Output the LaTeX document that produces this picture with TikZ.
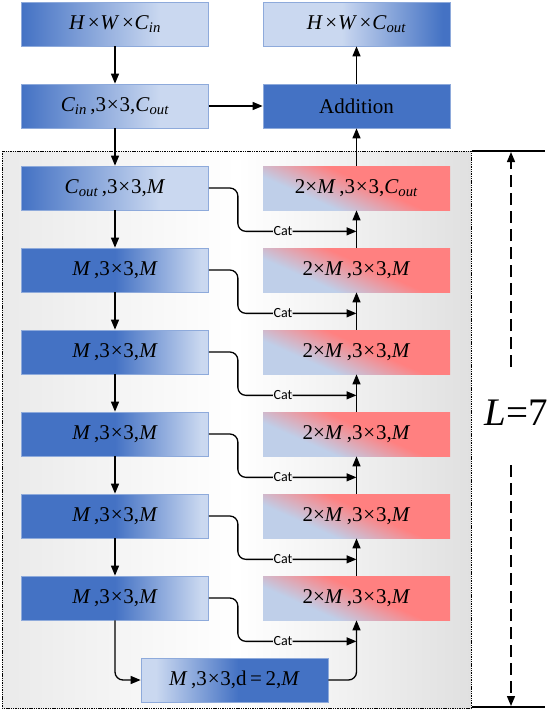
\documentclass[tikz,border=0pt]{standalone}
\usepackage{fontspec}
\setmainfont{Liberation Serif}
\newfontfamily\catfont{Carlito}
\usetikzlibrary{arrows.meta,calc}
\definecolor{bdark}{HTML}{4472C4}
\definecolor{bpale}{HTML}{CAD8F0}
\definecolor{bborder}{HTML}{8EAADB}
\definecolor{rred}{HTML}{FF8080}
\definecolor{rblue}{HTML}{BFCFE9}
\definecolor{bgl}{HTML}{EAEAEA}
\definecolor{bgr}{HTML}{E0E0E0}
\pgfdeclarehorizontalshading{lrshade}{100bp}{color(0bp)=(bdark); color(25bp)=(bdark); color(62bp)=(bpale); color(100bp)=(bpale)}
\pgfdeclarehorizontalshading{rowshade}{100bp}{color(0bp)=(bdark); color(50bp)=(bdark); color(73bp)=(bpale); color(100bp)=(bpale)}
\pgfdeclarehorizontalshading{rlshade}{100bp}{color(0bp)=(bpale); color(46bp)=(bpale); color(73bp)=(bdark); color(100bp)=(bdark)}
\pgfdeclarehorizontalshading{botshade}{100bp}{color(0bp)=(bpale); color(29bp)=(bpale); color(51bp)=(bdark); color(100bp)=(bdark)}
\pgfdeclarehorizontalshading{pinkshade}{100bp}{color(0bp)=(rblue); color(43bp)=(rblue); color(52bp)=(rred); color(100bp)=(rred)}
\pgfdeclarehorizontalshading{bgshade}{100bp}{color(0bp)=(bgl); color(25bp)=(bgl); color(50bp)=(white); color(75bp)=(bgr); color(100bp)=(bgr)}
\newcommand{\vi}[1]{\textit{#1}}
\newcommand{\mysub}[1]{\textsubscript{\textit{#1}}}
\newcommand{\tm}{\hspace{0.04em}×\hspace{0.04em}}
\newcommand{\tms}{\hspace{0.12em}×\hspace{0.04em}}
\tikzset{
  box/.style={minimum width=187pt, minimum height=44pt, inner sep=0pt, draw=bborder, line width=0.7pt,
    font=\fontsize{21}{23}\selectfont},
  lrbox/.style={box, shading=lrshade},
  rowbox/.style={box, shading=rowshade},
  rlbox/.style={box, shading=rlshade},
  botbox/.style={box, shading=botshade},
  addbox/.style={box, fill=bdark},
  pinkbox/.style={box, draw=none, path picture={
      \shade[shading=pinkshade, shading angle=66]
        ($(path picture bounding box.center)+(-100,-100)$) rectangle ++(200,200);}},
  arr/.style={-{Triangle[length=10pt,width=8pt]}, line width=1.3pt},
  catline/.style={arr, rounded corners=8pt},
  cat/.style={font=\catfont\fontsize{14}{15}\selectfont, fill=white!97!black, inner sep=0.4pt},
  dasharr/.style={-{Triangle[length=10pt,width=8pt]}, line width=1.4pt, dash pattern=on 12pt off 6pt},
  bracket/.style={line width=1.7pt},
}
\begin{document}
\begin{tikzpicture}[x=1pt,y=-1pt]
\useasboundingbox (0,0) rectangle (552,712);
% background dashed region
\path[shading=bgshade] (2,151) rectangle (471,708);
\draw[line width=0.9pt, dash pattern=on 1.4pt off 0.9pt] (2,151) rectangle (471,708);
% top nodes
\node[lrbox] (In) at (115,24) {\vi{H}\tms\vi{W}\tms\vi{C}\mysub{in}};
\node[rlbox] (Out) at (356.5,24) {\vi{H}\tms\vi{W}\tms\vi{C}\mysub{out}};
\node[lrbox] (C1) at (115,106) {\vi{C}\mysub{in}\,,3\tm3,\vi{C}\mysub{out}};
\node[addbox] (Add) at (356.5,106) {Addition};
% left column
\node[lrbox] (L1) at (115,188) {\vi{C}\mysub{out}\,,3\tm3,\vi{M}};
\foreach \k/\y in {2/270,3/352,4/434,5/516,6/598}{
  \node[rowbox] (L\k) at (115,\y) {\vi{M}\,,3\tm3,\vi{M}};
}
% right column
\node[pinkbox] (R1) at (356.5,188) {2×\vi{M}\,,3\tm3,\vi{C}\mysub{out}};
\foreach \k/\y in {2/270,3/352,4/434,5/516,6/598}{
  \node[pinkbox] (R\k) at (356.5,\y) {2×\vi{M}\,,3\tm3,\vi{M}};
}
% bottom
\node[botbox] (B) at (234.5,680) {\vi{M}\,,3\tm3,d\,=\,2,\vi{M}};
% top connectors
\draw[arr] (In.south) -- (C1.north);
\draw[arr] (C1.east) -- (Add.west);
\draw[arr] (Add.north) -- (Out.south);
\draw[arr] (C1.south) -- (L1.north);
\draw[arr] (R1.north) -- (Add.south);
% vertical chains
\foreach \a/\b in {1/2,2/3,3/4,4/5,5/6}{
  \draw[arr] (L\a.south) -- (L\b.north);
  \draw[arr] (R\b.north) -- (R\a.south);
}
% cat connectors
\foreach \k in {1,...,6}{
  \coordinate (J\k) at ($(R\k.south)+(0,21)$);
  \draw[catline] (L\k.east) -- ++(29,0) |- node[cat,pos=0.69]{Cat} (J\k);
}
% bottom path
\draw[arr, rounded corners=8pt] (L6.south) |- (B.west);
\draw[arr, rounded corners=8pt] (B.east) -| (R6.south);
% L = 7 annotation
\coordinate (Ta) at (472,151);
\coordinate (Tb) at (545,151);
\coordinate (Ba) at (472,707);
\coordinate (Bb) at (545,707);
\draw[bracket] (Ta) -- (Tb);
\draw[bracket] (Ba) -- (Bb);
\node[font=\fontsize{39}{40}\selectfont, inner sep=0pt] (Lab) at (516,413) {\vi{L}=7};
\coordinate (Atop) at (511,152);
\coordinate (Abot) at (511,706);
\draw[dasharr] (511,367) -- (Atop);
\draw[dasharr] (511,465) -- (Abot);
\end{tikzpicture}
\end{document}
